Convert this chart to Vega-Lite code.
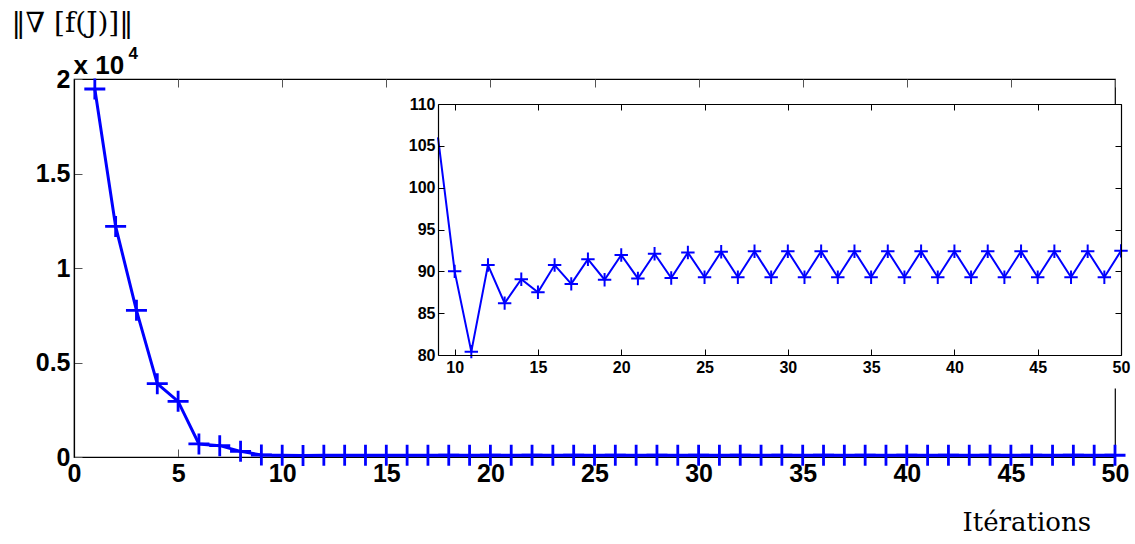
{
  "$schema": "https://vega.github.io/schema/vega-lite/v6.json",
  "width": 1041,
  "height": 378,
  "autosize": {"type": "none"},
  "padding": {"left": 74, "top": 79, "right": 20, "bottom": 87},
  "background": "white",
  "config": {
    "view": {"stroke": "black", "strokeWidth": 1.2},
    "axis": {
      "grid": false,
      "labelFont": "Liberation Sans",
      "labelFontWeight": "bold",
      "labelColor": "black",
      "titleColor": "black",
      "domainColor": "black",
      "domainWidth": 1.2,
      "tickColor": "#555555",
      "labelOverlap": false,
      "labelFlush": false
    }
  },
  "datasets": {
    "g": [
      {"iter": 1, "grad": 19470},
      {"iter": 2, "grad": 12200},
      {"iter": 3, "grad": 7760},
      {"iter": 4, "grad": 3880},
      {"iter": 5, "grad": 2945},
      {"iter": 6, "grad": 690},
      {"iter": 7, "grad": 600},
      {"iter": 8, "grad": 300},
      {"iter": 9, "grad": 106},
      {"iter": 10, "grad": 90},
      {"iter": 11, "grad": 80.4},
      {"iter": 12, "grad": 90.75},
      {"iter": 13, "grad": 86.2},
      {"iter": 14, "grad": 89.05},
      {"iter": 15, "grad": 87.5},
      {"iter": 16, "grad": 90.75},
      {"iter": 17, "grad": 88.5},
      {"iter": 18, "grad": 91.45},
      {"iter": 19, "grad": 89.0},
      {"iter": 20, "grad": 91.95},
      {"iter": 21, "grad": 89.15},
      {"iter": 22, "grad": 92.1},
      {"iter": 23, "grad": 89.2},
      {"iter": 24, "grad": 92.25},
      {"iter": 25, "grad": 89.3},
      {"iter": 26, "grad": 92.35},
      {"iter": 27, "grad": 89.3},
      {"iter": 28, "grad": 92.4},
      {"iter": 29, "grad": 89.3},
      {"iter": 30, "grad": 92.4},
      {"iter": 31, "grad": 89.3},
      {"iter": 32, "grad": 92.4},
      {"iter": 33, "grad": 89.3},
      {"iter": 34, "grad": 92.4},
      {"iter": 35, "grad": 89.3},
      {"iter": 36, "grad": 92.4},
      {"iter": 37, "grad": 89.3},
      {"iter": 38, "grad": 92.4},
      {"iter": 39, "grad": 89.3},
      {"iter": 40, "grad": 92.4},
      {"iter": 41, "grad": 89.3},
      {"iter": 42, "grad": 92.4},
      {"iter": 43, "grad": 89.3},
      {"iter": 44, "grad": 92.4},
      {"iter": 45, "grad": 89.3},
      {"iter": 46, "grad": 92.4},
      {"iter": 47, "grad": 89.3},
      {"iter": 48, "grad": 92.4},
      {"iter": 49, "grad": 89.3},
      {"iter": 50, "grad": 92.45}
    ]
  },
  "data": {"name": "g"},
  "layer": [
    {
      "mark": {"type": "line", "color": "#0000ff", "strokeWidth": 3},
      "encoding": {
        "x": {
          "field": "iter", "type": "quantitative",
          "scale": {"domain": [0, 50], "nice": false, "zero": false},
          "axis": {
            "orient": "bottom",
            "values": [0, 5, 10, 15, 20, 25, 30, 35, 40, 45, 50],
            "tickSize": -8, "labelPadding": 12, "labelFontSize": 25,
            "title": "Itérations", "titleFont": "DejaVu Serif", "titleFontSize": 26,
            "titleFontWeight": "normal", "titleX": 888, "titleY": 73,
            "titleAlign": "left", "titleBaseline": "alphabetic", "titleAngle": 0
          }
        },
        "y": {
          "field": "grad", "type": "quantitative",
          "scale": {"domain": [0, 20000], "nice": false, "zero": false},
          "axis": {
            "orient": "left",
            "values": [0, 5000, 10000, 15000, 20000],
            "labelExpr": "'' + (datum.value / 10000)",
            "tickSize": -8, "labelPadding": 12, "labelFontSize": 25, "labelBaseline": "middle",
            "title": "‖∇ [f(J)]‖", "titleFont": "DejaVu Serif", "titleFontSize": 28,
            "titleFontWeight": "normal", "titleAngle": 0, "titleX": -63, "titleY": -48,
            "titleAlign": "left", "titleBaseline": "alphabetic"
          }
        }
      }
    },
    {
      "mark": {"type": "point", "shape": "M-1,0L1,0M0,-1L0,1", "filled": false, "color": "#0000ff", "strokeWidth": 2.8, "size": 441, "opacity": 1},
      "encoding": {
        "x": {
          "field": "iter", "type": "quantitative",
          "scale": {"domain": [0, 50], "nice": false, "zero": false},
          "axis": {
            "orient": "top",
            "values": [0, 5, 10, 15, 20, 25, 30, 35, 40, 45, 50],
            "labels": false, "domain": false, "tickSize": -8,
            "title": "x 10", "titleFont": "Liberation Sans", "titleFontWeight": "bold", "titleFontSize": 26,
            "titleX": -1, "titleY": -6, "titleAlign": "left", "titleBaseline": "alphabetic", "titleAngle": 0
          }
        },
        "y": {
          "field": "grad", "type": "quantitative",
          "scale": {"domain": [0, 20000], "nice": false, "zero": false},
          "axis": {
            "orient": "right", "labels": false, "ticks": false, "domain": false,
            "title": "4", "titleFont": "Liberation Sans", "titleFontWeight": "bold", "titleFontSize": 17,
            "titleAngle": 0, "titleX": -987, "titleY": -21, "titleAlign": "left", "titleBaseline": "alphabetic"
          }
        }
      }
    },
    {
      "data": {"values": [{}]},
      "mark": {"type": "rect", "fill": "white"},
      "encoding": {
        "x": {"datum": 9, "type": "quantitative", "scale": {"domain": [9, 50], "range": [364, 1047], "nice": false, "zero": false}, "axis": null},
        "x2": {"datum": 50},
        "y": {"datum": 76, "type": "quantitative", "scale": {"domain": [80, 110], "range": [276, 25], "nice": false, "zero": false}, "axis": null},
        "y2": {"datum": 110}
      }
    },
    {
      "transform": [{"filter": "datum.iter >= 9"}],
      "mark": {"type": "line", "color": "#0000ff", "strokeWidth": 2},
      "encoding": {
        "x": {
          "field": "iter", "type": "quantitative",
          "scale": {"domain": [9, 50], "range": [364, 1047], "nice": false, "zero": false},
          "axis": {
            "orient": "bottom", "offset": -102, "zindex": 1,
            "values": [10, 15, 20, 25, 30, 35, 40, 45, 50],
            "tickSize": -6, "tickColor": "black", "labelPadding": 10, "labelFontSize": 16, "title": null
          }
        },
        "y": {
          "field": "grad", "type": "quantitative",
          "scale": {"domain": [80, 110], "range": [276, 25], "nice": false, "zero": false},
          "axis": {
            "orient": "left", "offset": -364, "zindex": 1,
            "values": [80, 85, 90, 95, 100, 105, 110],
            "tickSize": -6, "tickColor": "black", "labelPadding": 9, "labelFontSize": 16, "labelBaseline": "middle", "title": null
          }
        }
      }
    },
    {
      "transform": [{"filter": "datum.iter >= 10"}],
      "mark": {"type": "point", "shape": "M-1,0L1,0M0,-1L0,1", "filled": false, "color": "#0000ff", "strokeWidth": 2, "size": 180, "opacity": 1},
      "encoding": {
        "x": {
          "field": "iter", "type": "quantitative",
          "scale": {"domain": [9, 50], "range": [364, 1047], "nice": false, "zero": false},
          "axis": {
            "orient": "top", "offset": -25, "zindex": 1,
            "values": [10, 15, 20, 25, 30, 35, 40, 45, 50],
            "labels": false, "tickSize": -6, "tickColor": "black", "title": null
          }
        },
        "y": {
          "field": "grad", "type": "quantitative",
          "scale": {"domain": [80, 110], "range": [276, 25], "nice": false, "zero": false},
          "axis": {
            "orient": "right", "offset": 6, "zindex": 1,
            "values": [80, 85, 90, 95, 100, 105, 110],
            "labels": false, "tickSize": -6, "tickColor": "black", "title": null
          }
        }
      }
    }
  ],
  "resolve": {
    "scale": {"x": "independent", "y": "independent"},
    "axis": {"x": "independent", "y": "independent"}
  }
}
